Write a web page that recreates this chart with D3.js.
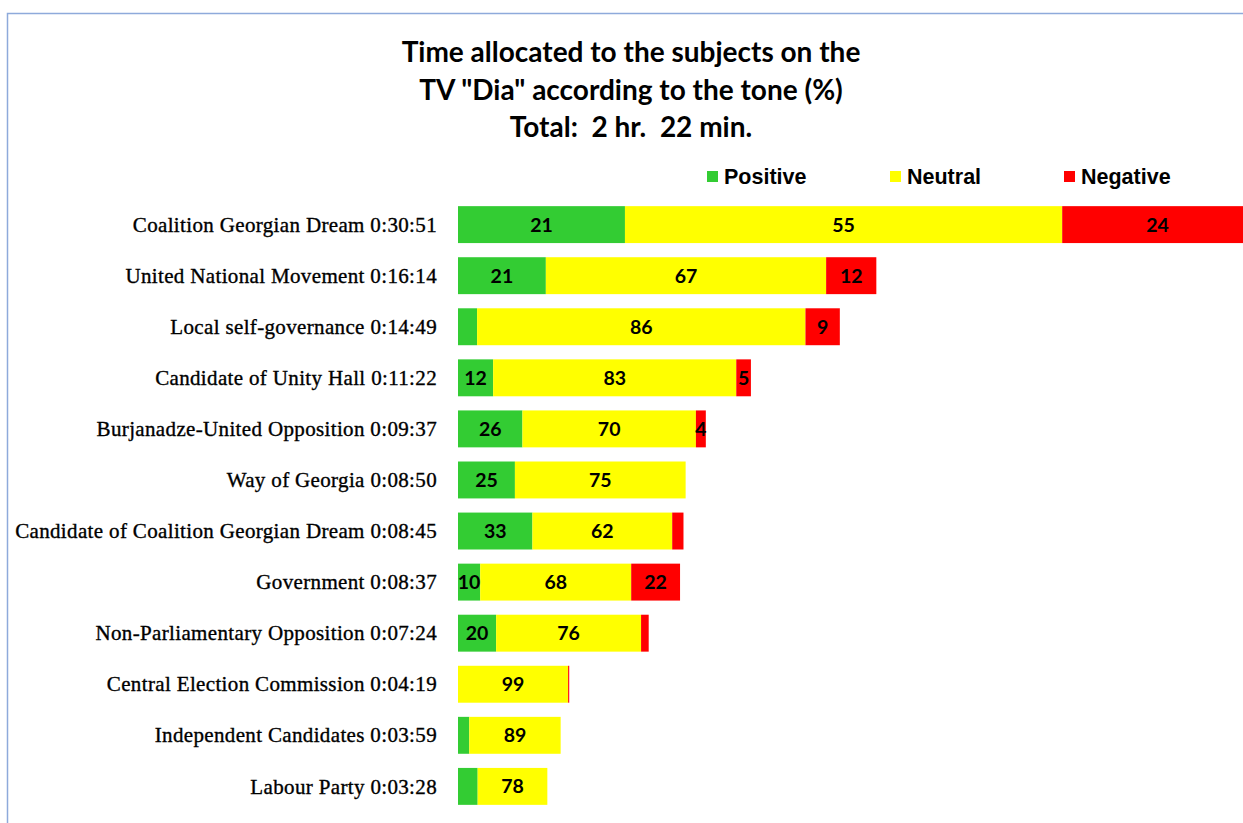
<!DOCTYPE html>
<html>
<head>
<meta charset="utf-8">
<script src="https://cdn.jsdelivr.net/npm/d3@7/dist/d3.min.js"></script>
<style>
  html, body { margin: 0; padding: 0; background: #fff; }
  svg { display: block; }
  text { white-space: pre; }
</style>
</head>
<body>
<script>
// ---- data ----
const categories = [
  "Coalition Georgian Dream", "United National Movement", "Local self-governance",
  "Candidate of Unity Hall", "Burjanadze-United Opposition", "Way of Georgia",
  "Candidate of Coalition Georgian Dream", "Government", "Non-Parliamentary Opposition",
  "Central Election Commission", "Independent Candidates", "Labour Party"
];
const times = ["0:30:51", "0:16:14", "0:14:49", "0:11:22", "0:09:37", "0:08:50",
               "0:08:45", "0:08:37", "0:07:24", "0:04:19", "0:03:59", "0:03:28"];
const positive = [21, 21, 5, 12, 26, 25, 33, 10, 20, 0, 11, 22];
const neutral  = [55, 67, 86, 83, 70, 75, 62, 68, 76, 99, 89, 78];
const negative = [24, 12, 9, 5, 4, 0, 5, 22, 4, 1, 0, 0];
const seriesNames = ["Positive", "Neutral", "Negative"];
const seriesColors = ["#33cc33", "#ffff00", "#ff0000"];
const hiddenLabels = [
  ["Local self-governance", "Positive"],
  ["Candidate of Coalition Georgian Dream", "Negative"],
  ["Non-Parliamentary Opposition", "Negative"],
  ["Central Election Commission", "Negative"],
  ["Independent Candidates", "Positive"],
  ["Labour Party", "Positive"]
];
const titleLines = ["Time allocated to the subjects on the", "TV \"Dia\" according to the tone (%)", "Total:  2 hr.  22 min."];

// ---- build ----
const W = 1243, H = 823;
const toSec = t => t.split(":").reduce((a, v) => a * 60 + (+v), 0);
const rows = categories.map((c, i) => {
  const total = toSec(times[i]);
  const vals = [positive[i], neutral[i], negative[i]];
  const s = d3.sum(vals);
  const r = { category: c, label: c + " " + times[i] };
  seriesNames.forEach((n, k) => { r[n] = total * vals[k] / s; r[n + "_pct"] = vals[k]; });
  return r;
});

const svg = d3.select("body").append("svg").attr("width", W).attr("height", H);

// chart border
svg.append("rect").attr("x", 7.5).attr("y", 13.5).attr("width", W + 20).attr("height", H + 20)
  .attr("fill", "none").attr("stroke", "#8eaadb").attr("stroke-width", 1.5);

const x = d3.scaleLinear().domain([0, 1851]).range([458, 458 + 795]);
const y = d3.scaleBand().domain(categories).range([192, 819]).padding(0.277);

const stack = d3.stack().keys(seriesNames);
const stacked = stack(rows);
const hidden = new Set(hiddenLabels.map(d => d[0] + "|" + d[1]));

const g = svg.append("g");
stacked.forEach((layer, k) => {
  const lg = g.append("g").attr("fill", seriesColors[k]);
  lg.selectAll("rect").data(layer).join("rect")
    .attr("x", d => x(d[0]))
    .attr("y", d => y(d.data.category))
    .attr("width", d => Math.max(0, x(d[1]) - x(d[0])))
    .attr("height", y.bandwidth());
});
stacked.forEach((layer, k) => {
  const name = seriesNames[k];
  g.append("g").selectAll("text")
    .data(layer.filter(d => d.data[name + "_pct"] > 0 && !hidden.has(d.data.category + "|" + name)))
    .join("text")
    .attr("x", d => (x(d[0]) + x(d[1])) / 2)
    .attr("y", d => y(d.data.category) + y.bandwidth() / 2)
    .attr("dy", "0.36em")
    .attr("text-anchor", "middle")
    .attr("font-family", "Lato, 'Open Sans', sans-serif")
    .attr("font-weight", "bold")
    .attr("font-size", 19.5)
    .attr("fill", "#000")
    .text(d => d.data[name + "_pct"]);
});

// category labels (axis)
const axis = d3.axisLeft(y).tickSize(0).tickPadding(0).tickFormat((c, i) => rows[i].label);
const ax = svg.append("g").attr("transform", "translate(437,0)").call(axis);
ax.select(".domain").remove();
ax.selectAll("text")
  .attr("font-family", "'Liberation Serif', 'Times New Roman', serif")
  .attr("font-size", 21)
  .attr("letter-spacing", "0.35px")
  .attr("fill", "#000")
  .attr("stroke", "#000")
  .attr("stroke-width", 0.35)
  .attr("dy", "0.34em");

// title
svg.append("g").selectAll("text").data(titleLines).join("text")
  .attr("x", 631)
  .attr("y", (d, i) => 62 + i * 37.5)
  .attr("text-anchor", "middle")
  .attr("font-family", "Lato, 'Open Sans', sans-serif")
  .attr("font-weight", "bold")
  .attr("font-size", 28)
  .attr("fill", "#000")
  .text(d => d);

// legend
const legX = [707, 890, 1064];
const leg = svg.append("g").selectAll("g").data(seriesNames).join("g")
  .attr("transform", (d, i) => `translate(${legX[i]},171)`);
leg.append("rect").attr("width", 11).attr("height", 11).attr("fill", (d, i) => seriesColors[i]);
leg.append("text").attr("x", 17).attr("y", 13)
  .attr("font-family", "'Liberation Sans', Arial, sans-serif")
  .attr("font-weight", "bold")
  .attr("font-size", 21.5)
  .attr("fill", "#000")
  .text(d => d);
</script>
</body>
</html>
